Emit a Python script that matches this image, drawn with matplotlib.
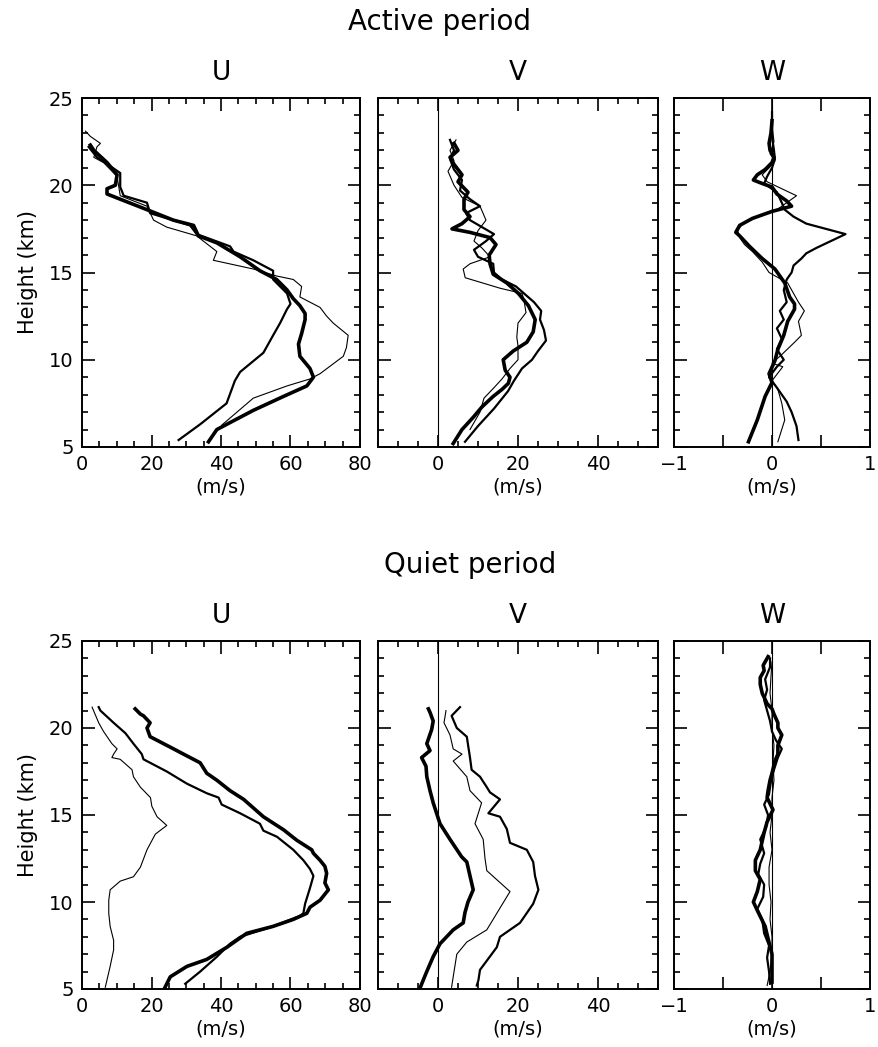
import matplotlib
matplotlib.use("Agg")
import matplotlib.pyplot as plt
import numpy as np

# ---- Active period, U (height km, value m/s)
act_u_thick_z = [5.3, 6.0, 7.1, 7.9, 8.5, 9.0, 9.5, 10.2, 10.9, 11.5, 12.3, 12.65, 13.1, 13.5, 14.0, 14.6, 15.1,
                 15.9, 16.7, 17.1, 17.7, 18.0, 18.6, 19.2, 19.5, 19.8, 20.0, 20.6, 21.3, 22.0, 22.3]
act_u_thick = [36.4, 38.8, 49.3, 58, 64.7, 66.6, 65.6, 62.7, 62.3, 63.2, 64.2, 64.2, 62.7, 60.8, 59, 56, 51.2,
               45.5, 38.8, 33.5, 32.1, 26.3, 18.7, 11, 7.2, 7.2, 9.6, 10.1, 7.2, 3.4, 2.4]
act_u_med_z = [5.4, 6.3, 7.5, 8.8, 9.3, 10.4, 11.4, 12.1, 12.9, 13.2, 13.8, 14.6, 15.1, 15.7, 16.2, 16.5, 17.2,
               17.7, 18.4, 19.0, 19.4, 19.9, 20.7, 21.1, 21.6, 22.2]
act_u_med = [27.8, 34, 41.6, 44, 45.5, 52.2, 55, 57, 59, 60, 59, 55, 55, 49.3, 43.6, 42.6, 33,
             31.1, 19.6, 18.7, 12, 11, 11, 8.1, 4.3, 1.9]
act_u_thin_z = [6.25, 7.8, 8.5, 8.9, 9.2, 10.2, 10.7, 11.4, 12.1, 12.5, 13.0, 13.6, 14.2, 14.6, 14.8, 15.2, 15.7,
                16.2, 17.1, 17.6, 18.0, 18.8, 19.4, 20.5, 21.3, 21.6, 22.2, 22.4, 22.8, 23.1]
act_u_thin = [40.2, 49.3, 59, 65.6, 68.5, 75.2, 76.1, 76.6, 72.3, 70.4, 68.5, 62.7, 63.2, 60.8, 56, 49.3, 37.8,
              38.8, 33, 24.4, 20.6, 18.7, 11, 10.1, 6.2, 3.4, 4.3, 5.3, 2.4, 1]

# ---- Active period, V
act_v_thick_z = [5.2, 6.0, 6.7, 7.3, 7.9, 8.3, 8.65, 9.0, 9.4, 10.0, 10.5, 11.0, 11.6, 12.3, 13.1, 13.8, 14.4,
                 14.9, 15.5, 16.0, 16.6, 17.0, 17.3, 17.5, 17.8, 18.2, 18.6, 19.2, 19.6, 20.2, 20.6, 21.2,
                 21.6, 22.0, 22.4]
act_v_thick = [3.8, 6, 8.8, 11, 13.8, 16, 17.6, 18, 16.8, 16.3, 18.8, 22.2, 23.8, 24.3, 22.6, 20.1, 17.2,
               13.8, 13.0, 12.8, 14.5, 13, 8, 3.5, 6, 8, 6.5, 6.5, 7.5, 5, 6, 4,
               3, 5, 4]
act_v_med_z = [5.3, 6.2, 7.2, 8.2, 8.8, 9.5, 10.0, 10.5, 11.1, 11.7, 12.3, 12.8, 13.3, 13.7, 14.2, 14.6, 15.0,
               15.5, 15.9, 16.3, 16.8, 17.2, 17.6, 18.0, 18.4, 18.8, 19.2, 19.7, 20.3, 20.9, 21.5, 22.0, 22.6]
act_v_med = [6.75, 10, 14, 17.5, 19, 21, 23.5, 25, 27, 26.5, 25.5, 25.8, 24, 22, 19.5, 16, 14,
             13.8, 10, 9, 12, 14, 11, 8, 7, 10.5, 8, 5.5, 6, 4, 3, 4, 3]
act_v_thin_z = [6.0, 7.0, 7.8, 8.4, 8.9, 9.5, 10.0, 10.8, 11.3, 12.1, 12.7, 13.4, 13.8, 14.1, 14.7, 15.2, 15.5,
                15.9, 16.4, 16.8, 17.4, 18.0, 18.8, 19.3, 20.0, 20.8, 21.4, 22.0, 22.6]
act_v_thin = [8, 10.5, 11.5, 14, 16, 18, 20, 20, 19.7, 20, 22, 21.5, 21, 15.5, 6.8, 6.3, 8,
              13, 11, 9, 10, 12, 10.5, 6, 4, 2.5, 4, 3, 4.5]

# ---- Active period, W
act_w_thick_z = [5.3, 6.55, 7.9, 8.7, 9.2, 9.95, 10.6, 11.4, 12.2, 12.9, 13.2, 13.6, 14.4, 15.2, 15.8, 16.5,
                 17.1, 17.3, 17.7, 18.1, 18.5, 18.8, 19.1, 19.5, 19.9, 20.1, 20.3, 20.6, 20.9, 21.3, 21.6,
                 22.0, 22.4, 23.0, 23.7]
act_w_thick = [-0.24, -0.15, -0.07, 0.0, -0.03, 0.03, 0.06, 0.12, 0.16, 0.23, 0.23, 0.18, 0.13, 0.03, -0.10, -0.23,
               -0.33, -0.37, -0.33, -0.2, 0.0, 0.2, 0.15, 0.05, 0.0, -0.1, -0.19, -0.15, -0.07, 0.0, 0.02,
               -0.02, -0.03, -0.01, 0.0]
act_w_med_z = [5.4, 6.2, 7.0, 7.6, 8.4, 9.0, 9.6, 10.0, 10.6, 11.2, 11.8, 12.3, 12.8, 13.3, 14.0, 14.6, 15.0,
               15.4, 15.8, 16.1, 16.4, 16.8, 17.2, 17.5, 17.8, 18.2, 18.6, 19.0, 19.6, 20.1, 20.5, 21.0,
               21.5, 22.0, 22.8, 24.2]
act_w_med = [0.27, 0.25, 0.2, 0.15, 0.05, -0.03, 0.05, 0.12, 0.05, 0.1, 0.05, 0.12, 0.08, 0.15, 0.12, 0.15, 0.2,
             0.22, 0.3, 0.35, 0.45, 0.6, 0.75, 0.55, 0.35, 0.22, 0.13, 0.1, 0.05, -0.08, -0.05, 0.0,
             0.03, 0.02, 0.0, 0.0]
act_w_thin_z = [5.3, 6.55, 7.5, 8.3, 8.8, 9.6, 9.8, 10.3, 11.0, 11.4, 12.2, 12.8, 13.3, 14.0, 14.4, 15.0, 15.6,
                16.2, 16.6, 17.0, 17.4, 17.8, 18.2, 18.6, 19.0, 19.4, 19.8, 20.2, 20.6, 21.0, 21.4, 21.8,
                22.5, 23.5, 24.2]
act_w_thin = [0.06, 0.13, 0.10, 0.06, 0.0, 0.11, 0.0, 0.1, 0.23, 0.3, 0.27, 0.33, 0.27, 0.2, 0.16, -0.03, -0.1,
              -0.2, -0.28, -0.33, -0.35, -0.3, -0.15, 0.05, 0.15, 0.25, 0.1, -0.05, -0.1, -0.03, 0.03, -0.02,
              0.02, 0.0, 0.0]

# ---- Quiet period, U
qui_u_thick_z = [5.1, 5.7, 6.3, 6.7, 7.4, 8.2, 8.6, 9.0, 9.35, 9.7, 10.1, 10.7, 11.1, 11.65, 12.05, 12.4, 12.8,
                 13.0, 13.55, 14.15, 14.9, 15.9, 16.4, 17.0, 17.4, 18.0, 18.5, 18.9, 19.5, 20.0, 20.3, 20.7,
                 20.8, 21.0, 21.1]
qui_u_thick = [23.9, 25.4, 30.2, 35.9, 41.7, 47.4, 55, 60.8, 64.7, 65.6, 68.5, 70.9, 69.9, 70.4, 69.9, 68.5, 66.6,
               66.1, 61.8, 58, 52.2, 46.5, 42.6, 38.8, 35.9, 34, 29.2, 25.4, 19.6, 18.7, 19.6, 17.7,
               16.8, 15.8, 15.3]
qui_u_med_z = [5.3, 6.0, 6.85, 7.6, 8.0, 8.6, 9.2, 9.35, 9.9, 10.8, 11.5, 11.9, 12.4, 13.0, 13.75, 14.1, 14.5,
               15.1, 15.6, 16.0, 16.25, 16.8, 17.5, 18.2, 18.5, 19.1, 19.7, 20.3, 21.0, 21.2]
qui_u_med = [29.7, 34, 38.8, 42.6, 45.5, 55, 62.7, 63.7, 64.2, 65.6, 66.6, 65.6, 63.7, 60.8, 56.1, 52.2, 51.2,
             45.5, 40.2, 39.3, 35.9, 30.2, 24.4, 17.7, 17.2, 14.8, 12.5, 9.1, 5.3, 4.8]
qui_u_thin_z = [5.1, 6.3, 7.25, 7.8, 8.6, 9.35, 10.1, 10.7, 11.2, 11.45, 12.0, 13.0, 13.9, 14.4, 14.9, 15.5, 16.0,
                16.6, 17.2, 17.6, 18.2, 18.3, 18.5, 18.8, 19.1, 19.8, 20.3, 21.2]
qui_u_thin = [6.7, 8.1, 9.1, 9.1, 8.1, 7.7, 7.7, 8.1, 11, 14.8, 16.8, 18.7, 21.1, 24.4, 21.6, 20.1, 19.7,
              16.8, 14.8, 14.4, 11, 8.6, 9.1, 10.1, 8.6, 6.2, 4.8, 2.9]

# ---- Quiet period, V
qui_v_thick_z = [5.05, 5.9, 6.86, 7.6, 8.4, 8.8, 9.4, 10.0, 10.7, 11.5, 12.3, 12.6, 13.6, 14.5, 15.7, 16.4, 17.2,
                 17.8, 18.3, 18.7, 19.1, 19.5, 19.9, 20.4, 20.9, 21.1]
qui_v_thick = [-4.5, -3.0, -1.2, 0.5, 3.8, 6.3, 6.75, 7.5, 8.8, 8.0, 7.2, 5.9, 3.0, 0.5, -1.2, -2.0, -2.8,
               -3.0, -4.1, -2.0, -2.8, -2.2, -1.6, -1.2, -2.0, -2.4]
qui_v_med_z = [5.2, 5.5, 6.1, 7.4, 8.0, 8.8, 9.9, 10.7, 11.5, 12.3, 13.0, 13.4, 14.2, 14.9, 15.1, 15.9, 16.3,
               16.6, 17.2, 17.6, 18.3, 19.5, 20.0, 20.7, 21.2]
qui_v_med = [9.7, 10.1, 10.5, 14.7, 15.5, 20.5, 23.8, 25.1, 24.25, 23.8, 22.2, 18, 17.2, 15.5, 12.6, 15.5, 13,
             12.2, 10.5, 8.4, 8, 7.2, 4.7, 3.4, 5.5]
qui_v_thin_z = [5.1, 5.7, 7.0, 7.7, 8.4, 10.6, 11.8, 12.5, 13.6, 14.5, 15.7, 16.4, 17.2, 18.1, 18.5, 18.8, 19.6,
                20.3, 21.0]
qui_v_thin = [3.4, 3.8, 4.7, 7.2, 12.2, 18, 12.2, 11.75, 11.3, 9.25, 10.9, 8, 7.2, 3.8, 6, 3.8, 3.0,
              1.5, 2.0]

# ---- Quiet period, W
qui_w_thick_z = [5.4, 6.2, 7.0, 7.9, 8.6, 9.4, 10.0, 10.6, 11.3, 11.8, 12.4, 13.0, 13.5, 14.0, 14.6, 15.3, 16.0,
                 16.4, 17.0, 17.4, 18.1, 18.5, 19.0, 19.6, 20.0, 20.3, 20.8, 21.1, 21.4, 22.0, 22.5, 22.9,
                 23.3, 23.6, 24.1]
qui_w_thick = [0.0, 0.0, 0.0, -0.04, -0.07, -0.14, -0.19, -0.15, -0.12, -0.17, -0.17, -0.12, -0.10, -0.08, -0.05,
               0.01, -0.05, -0.04, -0.02, 0.0, 0.03, 0.06, 0.06, 0.10, 0.06, 0.06, 0.02, 0.0, -0.05, -0.10,
               -0.12, -0.12, -0.08, -0.09, -0.04]
qui_w_med_z = [5.3, 6.0, 6.8, 7.5, 8.2, 9.0, 9.6, 10.3, 11.0, 11.6, 12.2, 12.8, 13.6, 14.3, 15.0, 15.6, 16.2,
               17.0, 17.6, 18.3, 18.8, 19.3, 19.8, 20.4, 21.0, 21.6, 22.2, 22.8, 23.5, 24.0]
qui_w_med = [-0.02, -0.03, -0.05, -0.03, -0.08, -0.10, -0.15, -0.09, -0.08, -0.14, -0.12, -0.08, -0.12, -0.06,
             -0.04, -0.08, -0.03, -0.01, 0.02, 0.06, 0.10, 0.04, 0.0, -0.02, -0.05, -0.08, -0.05, -0.07,
             -0.02, -0.02]
qui_w_thin_z = [5.2, 6.0, 7.0, 8.0, 9.0, 10.0, 11.0, 12.0, 13.0, 14.0, 15.0, 16.0, 17.0, 18.0, 19.0, 20.0, 21.0,
                22.0, 23.0, 23.8]
qui_w_thin = [-0.05, -0.02, 0.0, 0.0, -0.02, -0.01, -0.03, -0.03, 0.0, -0.02, 0.0, 0.0, 0.02, 0.01, 0.02, 0.0,
              0.0, -0.02, -0.01, 0.0]

LW = [2.6, 1.6, 0.8]   # thick, medium, thin

fig = plt.figure(figsize=(8.79, 10.47), dpi=100)
W, H = 879.0, 1047.0


def box(x0, y0, x1, y1):
    # pixel box (top-left origin) -> figure fraction rect
    return [x0 / W, 1 - y1 / H, (x1 - x0) / W, (y1 - y0) / H]


def style(ax, kind, left_labels):
    ax.set_ylim(5, 25)
    ax.set_yticks(np.arange(5, 26, 5))
    ax.set_yticks(np.arange(5, 26, 1), minor=True)
    if kind == "U":
        ax.set_xlim(0, 80)
        ax.set_xticks([0, 20, 40, 60, 80])
        ax.set_xticks(np.arange(0, 81, 5), minor=True)
    elif kind == "V":
        ax.set_xlim(-15, 55)
        ax.set_xticks([0, 20, 40])
        ax.set_xticks(np.arange(-15, 56, 5), minor=True)
    else:
        ax.set_xlim(-1, 1)
        ax.set_xticks([-1, -0.5, 0, 0.5, 1])
        ax.set_xticklabels(["\u22121", "", "0", "", "1"])
    if kind != "W":
        ax.set_xticklabels([str(int(t)) for t in ax.get_xticks()])
    ax.tick_params(which="both", direction="in", top=True, right=True, width=1.2,
                   labelsize=14, pad=6)
    ax.tick_params(which="major", length=9)
    ax.tick_params(which="minor", length=4.5)
    if not left_labels:
        ax.set_yticklabels([])
    for s in ax.spines.values():
        s.set_linewidth(1.4)
    if kind != "U":
        ax.axvline(0, color="black", lw=0.8)


def panel(rect, kind, series, left_labels):
    ax = fig.add_axes(rect)
    for (z, v), lw in zip(series, LW):
        ax.plot(v, z, color="black", lw=lw, solid_joinstyle="round")
    style(ax, kind, left_labels)
    return ax


rows = [
    (98, 447, "Active period", 22, 440,
     [[(act_u_thick_z, act_u_thick), (act_u_med_z, act_u_med), (act_u_thin_z, act_u_thin)],
      [(act_v_thick_z, act_v_thick), (act_v_med_z, act_v_med), (act_v_thin_z, act_v_thin)],
      [(act_w_thick_z, act_w_thick), (act_w_med_z, act_w_med), (act_w_thin_z, act_w_thin)]]),
    (641, 989, "Quiet period", 565, 470,
     [[(qui_u_thick_z, qui_u_thick), (qui_u_med_z, qui_u_med), (qui_u_thin_z, qui_u_thin)],
      [(qui_v_thick_z, qui_v_thick), (qui_v_med_z, qui_v_med), (qui_v_thin_z, qui_v_thin)],
      [(qui_w_thick_z, qui_w_thick), (qui_w_med_z, qui_w_med), (qui_w_thin_z, qui_w_thin)]]),
]
cols = [(82, 360, "U"), (378, 658, "V"), (674, 870, "W")]

for top, bot, title, ty, tx, data in rows:
    fig.text(tx / W, 1 - ty / H, title, ha="center", va="center", fontsize=20)
    for (x0, x1, kind), series in zip(cols, data):
        ax = panel(box(x0, top, x1, bot), kind, series, kind == "U")
        fig.text((x0 + x1) / 2 / W, 1 - (top - 25) / H, kind, ha="center", va="center", fontsize=19)
        xc = (x0 + x1) / 2 if kind != "U" else 221
        if kind == "V":
            xc = 518
        fig.text(xc / W, 1 - (bot + 40) / H, "(m/s)", ha="center", va="center", fontsize=14)
        if kind == "U":
            ax.set_ylabel("Height (km)", fontsize=15, labelpad=8)

fig.savefig("out.png", dpi=100)
